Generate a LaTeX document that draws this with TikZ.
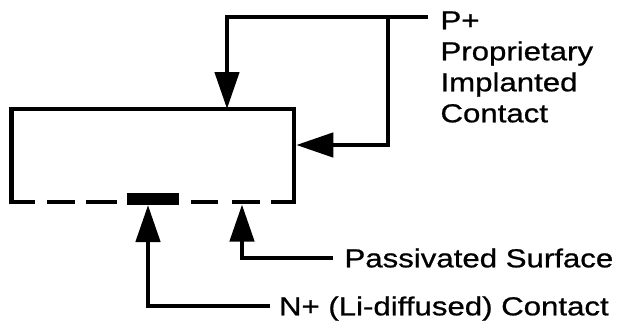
\documentclass[tikz,border=0pt]{standalone}
\usepackage{fontspec}
\setmainfont{Liberation Sans}[FakeStretch=1.2,FakeBold=0.8]
\usetikzlibrary{arrows.meta}
\begin{document}
\begin{tikzpicture}[x=1pt,y=-1pt,
  wire/.style={line width=4.5pt},
  arr/.style={wire,-{Triangle[length=37pt,width=24pt]}},
  lbl/.style={font=\fontsize{26}{31}\selectfont, inner ysep=0pt, outer sep=0pt},
  onel/.style={lbl, anchor=west, text height=18.6pt, text depth=0pt}]
\useasboundingbox (0,0) rectangle (622,327);
% detector body
\node[minimum width=282.5pt, minimum height=93pt, inner sep=0pt, outer sep=0pt] (box) at (152.75,155.5) {};
\draw[wire] ([yshift=-2.25pt]box.south west) -- (box.north west) -- (box.north east) -- ([yshift=-2.25pt]box.south east);
\draw[wire, dash pattern={on 23.5pt off 12pt on 28pt off 11pt on 31pt off 10pt on 52pt off 12pt on 27pt off 14pt on 28pt off 11pt on 23pt}] (box.south west) -- (box.south east);
% N+ contact
\node[fill=black, minimum width=52pt, minimum height=12pt, inner sep=0pt, outer sep=0pt] (contact) at (153,199) {};
% labels
\node[lbl, anchor=north west, align=left, inner xsep=12.5pt] (plabel) at (428,11.4) {P+\\Proprietary\\Implanted\\Contact};
\node[onel, inner xsep=11.5pt] (slabel) at (333,258) {Passivated Surface};
\node[onel, inner xsep=9pt] (nlabel) at (270,306) {N+ (Li-diffused) Contact};
% connector points
\coordinate (ptop) at ([yshift=-5.6pt]plabel.north west);
\coordinate (branch) at (388,17);
\coordinate (surf) at (242,204.5);
% connectors
\draw[arr] (ptop) -| ([xshift=74.25pt]box.north);
\draw[arr] (branch) |- ([xshift=2.25pt,yshift=10.5pt]box.east);
\draw[arr] (nlabel.west) -| ([xshift=-5pt]contact.south);
\draw[arr] (slabel.west) -| (surf);
\end{tikzpicture}
\end{document}
